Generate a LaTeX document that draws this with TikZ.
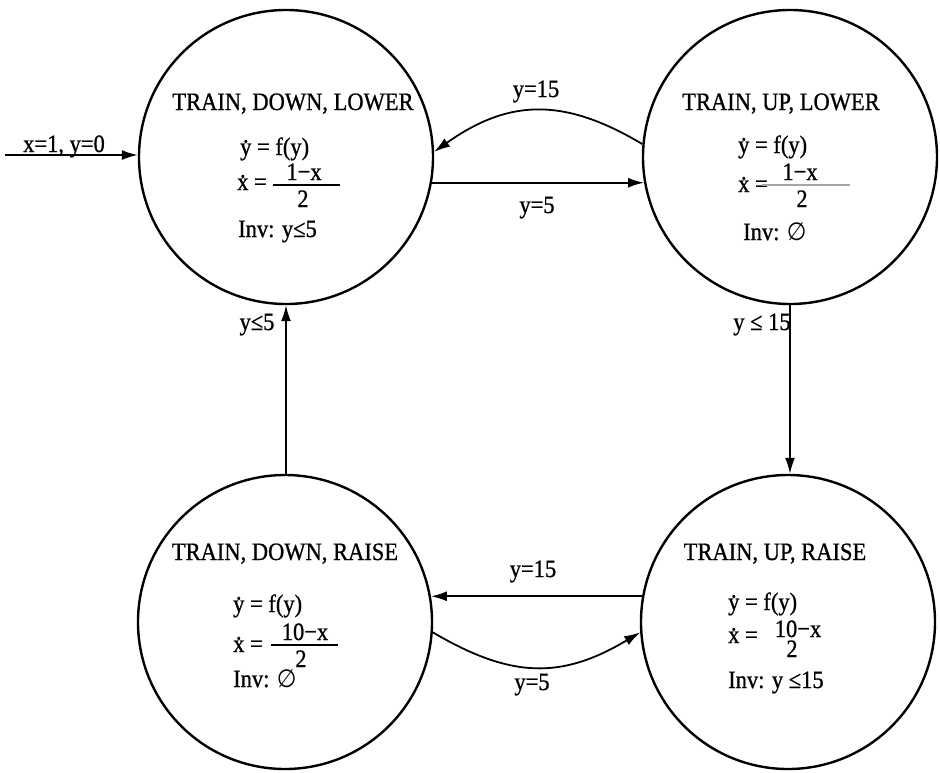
\documentclass[tikz,border=0pt]{standalone}
\usepackage{fontspec}
\setmainfont{Liberation Serif}[FakeStretch=0.9,FakeBold=0.8]
\newfontfamily\dvsans{DejaVu Sans}[FakeStretch=0.9]
\usetikzlibrary{arrows.meta}
\newcommand\dotover[1]{\ooalign{#1\cr\hidewidth\raisebox{0.5em}{.}\hidewidth\cr}}
\newcommand\emptyglyph{{\dvsans ∅}}
\begin{document}
\begin{tikzpicture}[x=1pt,y=-1pt,
  state/.style={circle,draw,line width=2.4pt,minimum size=294pt,inner sep=0pt},
  arr/.style={line width=1.8pt,-{Latex[length=16pt,width=10pt]}},
  txt/.style={inner sep=0pt,font=\fontsize{25}{29}\selectfont},
  ttl/.style={txt,anchor=base},
  lft/.style={txt,anchor=base west},
  bar/.style={line width=1.4pt}]
\useasboundingbox (0,0) rectangle (940,772);
\fill[white] (0,0) rectangle (940,772);

% states
\node[state] (C1) at (286,157) {};
\node[state] (C2) at (790,157) {};
\node[state] (C3) at (285,622) {};
\node[state] (C4) at (788,622) {};

% contents of C1
\node[ttl] (t1) at (293,110) {TRAIN, DOWN, LOWER};
\node[lft] (t1a) at (240,155) {\dotover{y} = f(y)};
\node[lft] (t1b) at (237,190) {\dotover{x} =};
\node[ttl] (t1n) at (304,180) {1−x};
\draw[bar] (273,185) -- (340,185);
\node[ttl] (t1d) at (303,207) {2};
\node[lft] (t1c) at (238,237) {Inv: y≤5};

% contents of C2
\node[ttl] (t2) at (781,110) {TRAIN, UP, LOWER};
\node[lft] (t2a) at (738,153) {\dotover{y} = f(y)};
\node[lft] (t2b) at (738,192) {\dotover{x} =};
\node[ttl] (t2n) at (800,180) {1−x};
\draw[bar,black!35] (762,185) -- (850,185);
\node[ttl] (t2d) at (802,207) {2};
\node[lft] (t2c) at (743,240) {Inv: \emptyglyph};

% contents of C3
\node[ttl] (t3) at (285,560) {TRAIN, DOWN, RAISE};
\node[lft] (t3a) at (233,612) {\dotover{y} = f(y)};
\node[lft] (t3b) at (233,652) {\dotover{x} =};
\node[ttl] (t3n) at (305,640) {10−x};
\draw[bar] (271,645) -- (338,645);
\node[ttl] (t3d) at (301,667) {2};
\node[lft] (t3c) at (233,687) {Inv: \emptyglyph};

% contents of C4
\node[ttl] (t4) at (775,560) {TRAIN, UP, RAISE};
\node[lft] (t4a) at (728,610) {\dotover{y} = f(y)};
\node[lft] (t4b) at (728,643) {\dotover{x} =};
\node[ttl] (t4n) at (798,637) {10−x};
\node[ttl] (t4d) at (792,657) {2};
\node[lft] (t4c) at (728,688) {Inv: y ≤15};

% transitions
\coordinate (S) at (5,155);
\draw[arr] (S) -- (S -| C1.west);
\node[ttl] (l0) at (64,152) {x=1, y=0};

\draw[arr] (C2.175) .. controls (565,98) and (510,98) .. (C1.2);
\node[ttl] (l1) at (536,97) {y=15};

\draw[arr] (C1.-10) -- (C2.190);
\node[ttl] (l2) at (537,213) {y=5};

\draw[arr] (C1.south |- C3.north) -- (C1.south);
\node[ttl] (l3) at (257,330) {y≤5};

\draw[arr] (C2.south) -- (C2.south |- C4.north);
\node[ttl] (l4) at (762,330) {y ≤ 15};

\draw[arr] (C4.170) -- (C3.10);
\node[ttl] (l5) at (533,577) {y=15};

\draw[arr] (C3.-4) .. controls (512,679) and (562,679) .. (C4.184);
\node[ttl] (l6) at (532,690) {y=5};
\end{tikzpicture}
\end{document}
